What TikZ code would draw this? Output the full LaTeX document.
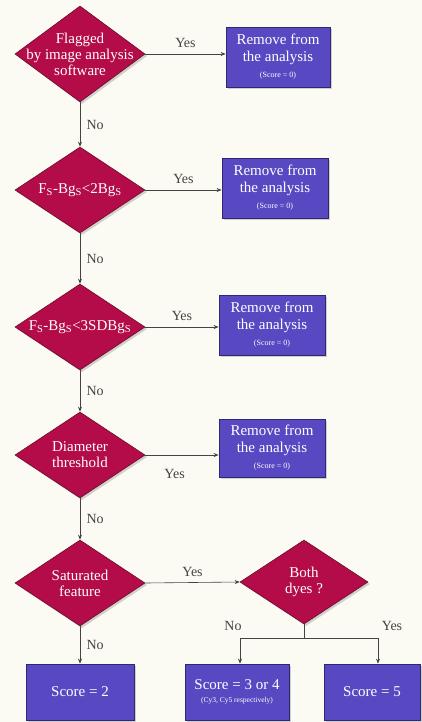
\documentclass[tikz,border=0pt]{standalone}
\usepackage{fontspec}
\setmainfont{Liberation Serif}
\usetikzlibrary{shapes.geometric,shadows,arrows.meta}
\definecolor{bgc}{HTML}{FBFBF3}
\definecolor{crim}{HTML}{B30C48}
\definecolor{crimdark}{HTML}{6E0A2E}
\definecolor{boxblue}{HTML}{5849C2}
\definecolor{boxdark}{HTML}{2E2870}
\definecolor{lbl}{HTML}{444444}
\begin{document}
\begin{tikzpicture}[x=1pt,y=-1pt]
\tikzset{
 dia/.style={diamond, fill=crim, draw=crimdark, line width=0.6pt, inner sep=0pt,
   minimum width=130pt, minimum height=86pt,
   drop shadow={shadow xshift=2pt, shadow yshift=-2pt, opacity=0.35}},
 diatext/.style={text=white, align=center, font=\fontsize{15}{16}\selectfont},
 box/.style={rectangle, fill=boxblue, draw=boxdark, line width=0.8pt, text=white,
   align=center, font=\fontsize{15}{16.5}\selectfont, minimum width=106pt,
   minimum height=60pt, inner sep=1pt,
   drop shadow={shadow xshift=2pt, shadow yshift=-2pt, opacity=0.35}},
 conn/.style={draw=lbl, line width=0.6pt},
 arr/.style={conn, -{Stealth[length=5pt,width=4pt]}},
 lab/.style={text=lbl, font=\fontsize{14}{15}\selectfont}
}
\fill[bgc] (0,0) rectangle (422,722);
\useasboundingbox (0,0) rectangle (422,722);

% decisions
\node[dia, minimum height=96pt, label={[diatext]center:{Flagged\\by image analysis\\software}}] (d1) at (80,54) {};
\node[dia, label={[diatext]center:{F\textsubscript{S}-Bg\textsubscript{S}<2Bg\textsubscript{S}}}] (d2) at (80,190) {};
\node[dia, label={[diatext]center:{F\textsubscript{S}-Bg\textsubscript{S}<3SDBg\textsubscript{S}}}] (d3) at (80,327) {};
\node[dia, label={[diatext]center:{Diameter\\threshold}}] (d4) at (80,455) {};
\node[dia, label={[diatext]center:{Saturated\\feature}}] (d5) at (80,583) {};
\node[dia, minimum width=128pt, minimum height=84pt, label={[diatext]center:{Both\\dyes ?}}] (d6) at (304,582) {};

% remove boxes
\node[box, minimum width=104pt] (b1) at (278,57) {Remove from\\the analysis\\{\fontsize{8}{10}\selectfont (Score = 0)}};
\node[box] (b2) at (275,188) {Remove from\\the analysis\\{\fontsize{8}{10}\selectfont (Score = 0)}};
\node[box] (b3) at (272,325) {Remove from\\the analysis\\{\fontsize{8}{10}\selectfont (Score = 0)}};
\node[box, minimum height=58pt] (b4) at (272,448) {Remove from\\the analysis\\{\fontsize{8}{10}\selectfont (Score = 0)}};

% score boxes
\node[box, minimum width=108pt, minimum height=56pt] (b5) at (80,692) {Score = 2};
\node[box, minimum width=104pt, minimum height=56pt] (b6) at (237,692) {Score = 3 or 4\\[-3pt]{\fontsize{7.5}{8}\selectfont (Cy3, Cy5 respectively)}};
\node[box, minimum width=96pt, minimum height=56pt] (b7) at (372,692) {Score = 5};

% yes connectors
\draw[arr] (d1.east) -- (d1.east -| b1.west) node[lab, midway, above=3pt] {Yes};
\draw[arr] (d2.east) -- (d2.east -| b2.west) node[lab, midway, above=3pt] {Yes};
\draw[arr] (d3.east) -- (d3.east -| b3.west) node[lab, midway, above=3pt] {Yes};
\draw[arr] (d4.east) -- (d4.east -| b4.west) node[lab, pos=0.4, below=11pt] {Yes};
\draw[arr] (d5.east) -- (d6.west) node[lab, midway, above=2pt] {Yes};

% no connectors
\draw[arr] (d1.south) -- (d2.north) node[lab, midway, right=3pt] {No};
\draw[arr] (d2.south) -- (d3.north) node[lab, midway, right=3pt] {No};
\draw[arr] (d3.south) -- (d4.north) node[lab, midway, right=3pt] {No};
\draw[arr] (d4.south) -- (d5.north) node[lab, midway, right=3pt] {No};
\draw[arr] (d5.south) -- (b5.north) node[lab, midway, right=3pt] {No};

% both dyes split
\coordinate (j0) at (304,638);
\coordinate (j1) at (240,638);
\coordinate (j2) at (378,638);
\draw[conn] (d6.south) -- (j0);
\draw[conn] (j1) -- (j2);
\draw[arr] (j1) -- (j1 |- b6.north);
\draw[arr] (j2) -- (j2 |- b7.north);
\node[lab] (nolab) at (233,626) {No};
\node[lab] (yeslab) at (392,626) {Yes};
\end{tikzpicture}
\end{document}
